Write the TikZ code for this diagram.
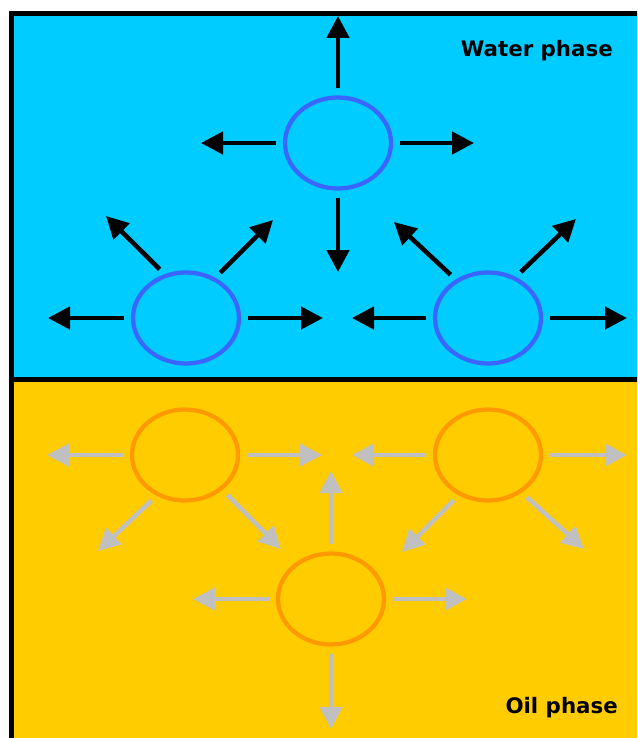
\documentclass[tikz,border=0pt]{standalone}
\usepackage{fontspec}
\setmainfont{DejaVu Sans}
\usetikzlibrary{shapes.geometric,arrows.meta}
\definecolor{waterblue}{HTML}{00CCFF}
\definecolor{oilyellow}{HTML}{FFCC00}
\definecolor{dropblue}{HTML}{3A66FF}
\definecolor{droporange}{HTML}{FF9900}
\definecolor{arrowgray}{HTML}{C0C0C0}
\tikzset{
  drop/.style={ellipse, minimum width=106*0.75pt, minimum height=91*0.75pt,
    inner sep=0pt, line width=3.2pt},
  waterdrop/.style={drop, draw=dropblue},
  oildrop/.style={drop, draw=droporange},
  push/.style={line width=3.4pt, shorten <=5.25pt,
    -{Triangle[length=16.5pt,width=16.5pt]}},
  wpush/.style={push, draw=black},
  opush/.style={push, draw=arrowgray},
  phaselabel/.style={font=\bfseries\fontsize{16pt}{18pt}\selectfont,
    anchor=base east, inner sep=0pt},
  frame/.style={line width=3.6pt, draw=black}
}
\begin{document}
\begin{tikzpicture}[x=0.75pt, y=-0.75pt]
\useasboundingbox (0,0) rectangle (637,738);
\clip (0,0) rectangle (637,738);

% the two phases
\fill[waterblue] (11.5,13.5) rectangle (640,379.5);
\fill[oilyellow] (11.5,379.5) rectangle (640,741);
\draw[frame] (11.5,741) -- (11.5,13.5) -- (640,13.5);
\draw[frame] (11.5,379.5) -- (640,379.5);

\node[phaselabel] (wlabel) at (613,57) {Water phase};
\node[phaselabel] (olabel) at (618,713) {Oil phase};

% droplets in the water phase
\node[waterdrop] (wt) at (338,143) {};
\node[waterdrop] (wl) at (186,318) {};
\node[waterdrop] (wr) at (488,318) {};

% droplets in the oil phase
\node[oildrop] (ol) at (185,455) {};
\node[oildrop] (or) at (488,455) {};
\node[oildrop] (ob) at (331,599) {};

% arrow tips
\coordinate (wtU) at (338,16);
\coordinate (wtL) at (201,143);
\coordinate (wtR) at (474,143);
\coordinate (wtD) at (338,272);
\coordinate (wlL) at (48,318);
\coordinate (wlR) at (323,318);
\coordinate (wlUL) at (106,216);
\coordinate (wlUR) at (273,220);
\coordinate (wrL) at (352,318);
\coordinate (wrR) at (627,318);
\coordinate (wrUL) at (394,222);
\coordinate (wrUR) at (576,219);
\coordinate (olL) at (47,455);
\coordinate (olR) at (322,455);
\coordinate (olDL) at (98,551);
\coordinate (olDR) at (281,549);
\coordinate (orL) at (352,455);
\coordinate (orR) at (627,455);
\coordinate (orDL) at (402,552);
\coordinate (orDR) at (584,549);
\coordinate (obU) at (331,471);
\coordinate (obL) at (193,599);
\coordinate (obR) at (467,599);
\coordinate (obD) at (331,729);

% black arrows in the water phase
\draw[wpush] (wt.90) -- (wtU);
\draw[wpush] (wt.180) -- (wtL);
\draw[wpush] (wt.0) -- (wtR);
\draw[wpush] (wt.270) -- (wtD);
\draw[wpush] (wl.180) -- (wlL);
\draw[wpush] (wl.0) -- (wlR);
\draw[wpush] (wl.116) -- (wlUL);
\draw[wpush] (wl.54) -- (wlUR);
\draw[wpush] (wr.180) -- (wrL);
\draw[wpush] (wr.0) -- (wrR);
\draw[wpush] (wr.130) -- (wrUL);
\draw[wpush] (wr.56) -- (wrUR);

% grey arrows in the oil phase
\draw[opush] (ol.180) -- (olL);
\draw[opush] (ol.0) -- (olR);
\draw[opush] (ol.235) -- (olDL);
\draw[opush] (ol.317) -- (olDR);
\draw[opush] (or.180) -- (orL);
\draw[opush] (or.0) -- (orR);
\draw[opush] (or.234) -- (orDL);
\draw[opush] (or.312) -- (orDR);
\draw[opush] (ob.90) -- (obU);
\draw[opush] (ob.180) -- (obL);
\draw[opush] (ob.0) -- (obR);
\draw[opush] (ob.270) -- (obD);
\end{tikzpicture}
\end{document}
